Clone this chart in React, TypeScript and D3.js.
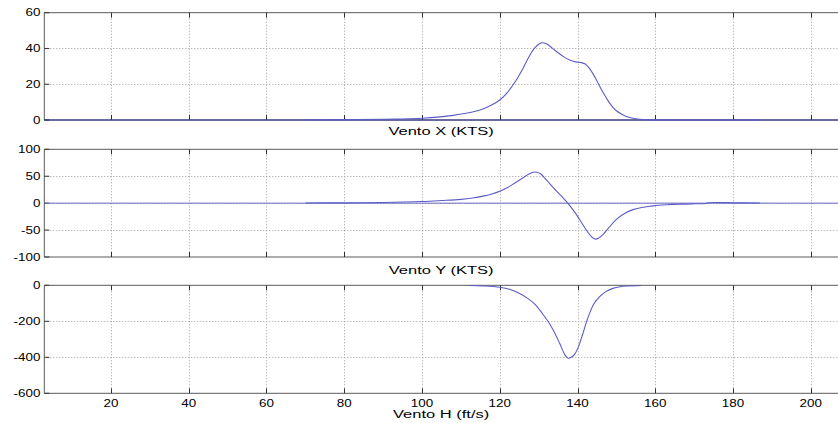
import React from "react";
import * as d3 from "d3";

// ---- data ----
const xTicks = [20, 40, 60, 80, 100, 120, 140, 160, 180, 200];
const xDomain = [2.85, 207];

const ventoXH = [70, 80, 90, 95, 100, 104, 108, 111, 114, 116, 118, 120, 122, 124, 126, 127, 128, 129, 130, 130.8, 132, 133.5, 135, 136.5, 138, 139.5, 141, 142, 143, 144, 145, 146, 147, 148, 149, 150, 151.5, 153, 155, 157, 160, 170, 187];
const ventoXV = [0.1, 0.2, 0.4, 0.6, 1.0, 1.6, 2.6, 3.6, 5.0, 6.4, 8.5, 11.2, 15.5, 21.5, 29, 33.3, 37.2, 40.3, 42.4, 43.2, 42.6, 40.2, 37.6, 35.3, 33.5, 32.5, 32.1, 31.3, 29, 25.8, 21.8, 17.6, 13.8, 10.3, 7.4, 5.2, 3.1, 1.7, 0.7, 0.25, 0.05, 0, 0];

const ventoYH = [70, 80, 90, 100, 105, 110, 113, 116, 118, 120, 122, 124, 126, 127.5, 128.6, 129.5, 130.5, 132, 134, 136, 137.5, 139, 140.5, 142, 143.3, 144.5, 145.5, 146.6, 148, 150, 152, 154.3, 157, 159.4, 163, 166.3, 170, 173, 173.5, 180, 187];
const ventoYV = [0.3, 0.6, 1.2, 3, 4.8, 7, 9.5, 13.5, 17, 22, 29, 38, 47, 54, 57.5, 57.5, 54.5, 43, 27, 12, 0, -14, -30, -47, -60, -66.7, -64.5, -58, -46, -30, -19.5, -12, -7.5, -5, -3, -1.9, -1.2, -0.8, 0.6, 0.6, 0.3];

const ventoHH = [112, 116, 120, 122.5, 125, 127, 129, 131, 132.9, 134.2, 135.4, 136.8, 137.6, 138.4, 139.3, 140.3, 141.4, 142.2, 143.1, 144.3, 145.7, 147.3, 149.1, 151, 153, 156.5];
const ventoHV = [-1, -4, -11, -22, -44, -70, -104, -158, -216, -268, -322, -388, -405, -400, -382, -338, -267, -210, -156, -100, -63, -35, -17, -8, -4, -1];

const panels = [
  { title: "Vento X (KTS)", domain: [0, 60], ticks: [0, 20, 40, 60], top: 12.7, bottom: 120, xs: ventoXH, ys: ventoXV, zero: true, zeroColor: "#262690", titleY: 131, showX: false },
  { title: "Vento Y (KTS)", domain: [-100, 100], ticks: [-100, -50, 0, 50, 100], top: 149.3, bottom: 257, xs: ventoYH, ys: ventoYV, zero: true, zeroColor: "#6a6ac8", titleY: 270, showX: false },
  { title: "Vento H (ft/s)", domain: [-600, 0], ticks: [-600, -400, -200, 0], top: 285.3, bottom: 393.3, xs: ventoHH, ys: ventoHV, zero: false, zeroColor: "", titleY: 414, showX: true },
];

const W = 838;
const H = 423;
const LEFT = 44.3;
const RIGHT = 838;
const LINE = "#5c5cc8";
const FONT = "'Liberation Sans', Arial, Helvetica, sans-serif";

export default function App() {
  const x = d3.scaleLinear().domain(xDomain).range([LEFT, RIGHT]);
  return (
    <svg width={W} height={H} style={{ position: "absolute", left: 0, top: 0, background: "#fff" }} fontFamily={FONT}>
      <rect x={0} y={0} width={W} height={H} fill="#fff" />
      {panels.map((p, i) => {
        const y = d3.scaleLinear().domain(p.domain).range([p.bottom, p.top]);
        const line = d3
          .line<number>()
          .x((_, k) => x(p.xs[k]))
          .y((d) => y(d))
          .curve(d3.curveCatmullRom.alpha(0.5));
        return (
          <g key={i}>
            {/* grid */}
            {xTicks.map((t) => (
              <line key={"gx" + t} x1={Math.round(x(t)) + 0.5} x2={Math.round(x(t)) + 0.5} y1={p.top} y2={p.bottom} stroke="#a0a0a0" strokeWidth={1} strokeDasharray="1,2" />
            ))}
            {p.ticks.slice(1, -1).map((t) => (
              <line key={"gy" + t} x1={LEFT} x2={RIGHT} y1={Math.round(y(t)) + 0.5} y2={Math.round(y(t)) + 0.5} stroke="#a0a0a0" strokeWidth={1} strokeDasharray="1,2" />
            ))}
            {/* frame */}
            <line x1={LEFT} x2={RIGHT} y1={p.top} y2={p.top} stroke="#5a5a5a" strokeWidth={1} />
            <line x1={LEFT} x2={RIGHT} y1={p.bottom} y2={p.bottom} stroke="#5a5a5a" strokeWidth={1} />
            <line x1={LEFT} x2={LEFT} y1={p.top} y2={p.bottom} stroke="#5a5a5a" strokeWidth={1} />
            {/* ticks */}
            {xTicks.map((t) => (
              <g key={"tx" + t}>
                <line x1={Math.round(x(t)) + 0.5} x2={Math.round(x(t)) + 0.5} y1={p.bottom} y2={p.bottom - 5} stroke="#333" strokeWidth={1} />
                <line x1={Math.round(x(t)) + 0.5} x2={Math.round(x(t)) + 0.5} y1={p.top} y2={p.top + 5} stroke="#333" strokeWidth={1} />
              </g>
            ))}
            {p.ticks.map((t) => (
              <line key={"ty" + t} x1={LEFT} x2={LEFT + 5} y1={y(t)} y2={y(t)} stroke="#333" strokeWidth={1} />
            ))}
            {/* y tick labels */}
            {p.ticks.map((t) => (
              <text key={"ly" + t} transform={`translate(40.5,${y(t)}) scale(1.28,1)`} textAnchor="end" dy="0.36em" fontSize={10.5} fill="#000">
                {t}
              </text>
            ))}
            {/* zero line */}
            {p.zero && <line x1={LEFT} x2={RIGHT} y1={y(0)} y2={y(0)} stroke={p.zeroColor} strokeWidth={1} />}
            {/* data */}
            <path d={line(p.ys) || ""} fill="none" stroke={LINE} strokeWidth={1.1} />
            {/* x tick labels */}
            {p.showX &&
              xTicks.map((t) => (
                <text key={"lx" + t} transform={`translate(${x(t)},${p.bottom + 9.5}) scale(1.28,1)`} textAnchor="middle" dy="0.36em" fontSize={10.5} fill="#000">
                  {t}
                </text>
              ))}
            {/* title */}
            <text transform={`translate(${(LEFT + RIGHT) / 2},${p.titleY}) scale(1.5,1)`} textAnchor="middle" dy="0.36em" fontSize={11} fill="#000">
              {p.title}
            </text>
          </g>
        );
      })}
    </svg>
  );
}
